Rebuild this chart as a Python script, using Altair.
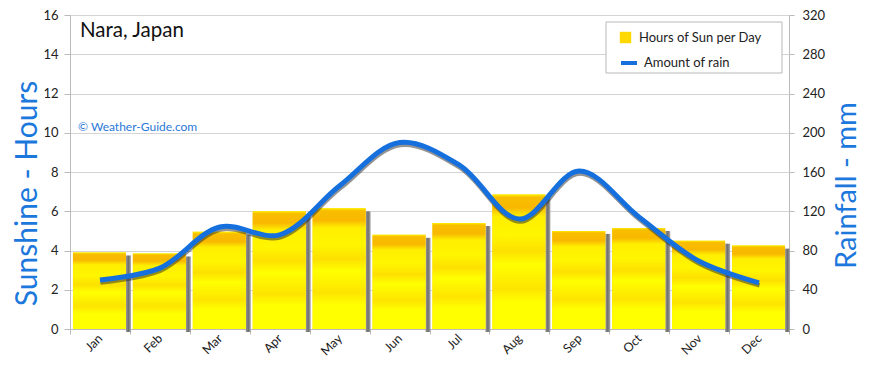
import altair as alt
import pandas as pd

months = ["Jan", "Feb", "Mar", "Apr", "May", "Jun", "Jul", "Aug", "Sep", "Oct", "Nov", "Dec"]
sun_hours = [3.9, 3.85, 4.95, 6.0, 6.15, 4.8, 5.4, 6.85, 5.0, 5.15, 4.5, 4.25]
rain_mm = [50, 62, 104, 96, 146, 190, 167, 112, 161, 114, 69, 47]
sun_ticks = [0, 2, 4, 6, 8, 10, 12, 14, 16]
rain_ticks = [0, 40, 80, 120, 160, 200, 240, 280, 320]

df = pd.DataFrame({
    "month": months,
    "sun": sun_hours,
    "rain": rain_mm,
    "sun_series": ["Hours of Sun per Day"] * 12,
    "rain_series": ["Amount of rain"] * 12,
})

FONT = "Lato"
BLUE = "#1570dd"
TITLE_BLUE = "#1c78dc"

x_enc = alt.X(
    "month:N", sort=months,
    scale=alt.Scale(paddingInner=0, paddingOuter=0),
    axis=alt.Axis(title=None, labelAngle=315, labelAlign="right", labelBaseline="middle",
                  labelPadding=2, tickBand="extent", tickSize=5, tickColor="#bbbbbb",
                  domainColor="#bbbbbb", labelFont=FONT, labelFontSize=12.5, labelColor="#222222"),
)

sun_scale = alt.Scale(domain=[0, 16], nice=False)
rain_scale = alt.Scale(domain=[0, 320], nice=False)

base = alt.Chart(df)

left_axis = alt.Axis(values=sun_ticks, tickCount=9, labelOverlap=False, title="Sunshine - Hours",
                     titleAngle=270, titleX=-43, titleY=178, titleAlign="center", titleBaseline="middle",
                     titleFont=FONT, titleFontSize=30, titleFontWeight="normal", titleColor=TITLE_BLUE,
                     grid=True, gridColor="#d4d4d4", tickSize=6, tickColor="#bbbbbb",
                     domainColor="#bbbbbb", labelPadding=6, labelFont=FONT, labelFontSize=13,
                     labelColor="#222222")
sun_y = alt.Y("sun:Q", scale=sun_scale, axis=left_axis)

shadow_bars = base.mark_bar(
    size=5, xOffset=28.5, yOffset=3, y2Offset=0,
    fill={"gradient": "linear", "x1": 0, "y1": 0, "x2": 1, "y2": 0,
          "stops": [{"offset": 0, "color": "#9a9a9a"}, {"offset": 0.5, "color": "#6f6f6f"},
                    {"offset": 1, "color": "#aaaaaa"}]},
).encode(x=x_enc, y=sun_y)

legend_bars = base.mark_bar(size=53, xOffset=-0.5).encode(
    x=x_enc,
    y=sun_y,
    fill=alt.Fill("sun_series:N", scale=alt.Scale(domain=["Hours of Sun per Day"], range=["#ffd800"]),
                  legend=alt.Legend(title=None, orient="none", legendX=549, legendY=16,
                                    symbolType="square", symbolSize=130, symbolStrokeWidth=0,
                                    labelOffset=7, labelFont=FONT, labelFontSize=13,
                                    labelColor="#222222", padding=0)),
)

grad_bars = base.mark_bar(
    size=53, xOffset=-0.5,
    fill={"gradient": "linear", "x1": 0, "y1": 0, "x2": 0, "y2": 1,
          "stops": [{"offset": 0, "color": "#fff000"}, {"offset": 0.02, "color": "#f9be00"},
                    {"offset": 0.1, "color": "#f8b800"}, {"offset": 0.16, "color": "#ffee00"},
                    {"offset": 0.3, "color": "#fff600"}, {"offset": 0.42, "color": "#fde000"},
                    {"offset": 0.52, "color": "#ffff00"}, {"offset": 0.7, "color": "#fde400"},
                    {"offset": 0.8, "color": "#ffff00"}, {"offset": 1, "color": "#ffff00"}]},
).encode(x=x_enc, y=sun_y)

right_axis = alt.Axis(values=rain_ticks, tickCount=9, labelOverlap=False, orient="right",
                      title="Rainfall - mm", titleAngle=270, titleX=57, titleY=170, titleAlign="center",
                      titleBaseline="middle", titleFont=FONT, titleFontSize=29, titleFontWeight="normal",
                      titleColor=TITLE_BLUE, grid=False, tickSize=5, tickColor="#bbbbbb",
                      domainColor="#bbbbbb", labelPadding=8, labelFont=FONT, labelFontSize=13,
                      labelColor="#222222")
rain_y = alt.Y("rain:Q", scale=rain_scale, axis=right_axis)

line_shadow = base.mark_line(
    interpolate="catmull-rom", strokeWidth=4.5, color="#2a2a2a", opacity=0.5, yOffset=2.5, xOffset=0.5,
).encode(x=x_enc, y=rain_y)

line = base.mark_line(interpolate="catmull-rom", strokeWidth=5).encode(
    x=x_enc,
    y=rain_y,
    stroke=alt.Stroke("rain_series:N", scale=alt.Scale(domain=["Amount of rain"], range=[BLUE]),
                      legend=alt.Legend(title=None, orient="none", legendX=549, legendY=38,
                                        symbolType="stroke", symbolSize=256, symbolStrokeWidth=4,
                                        labelOffset=5, labelFont=FONT, labelFontSize=13,
                                        labelColor="#222222", padding=0)),
)

one = pd.DataFrame({"a": [0]})
frame = alt.Chart(one).mark_rect(fill="white", stroke="#b8b8b8", strokeWidth=1).encode(
    x=alt.value(536), x2=alt.value(712), y=alt.value(7), y2=alt.value(58))
title = alt.Chart(one).mark_text(align="left", baseline="middle", font=FONT, fontSize=20.5,
                                 color="#111111").encode(
    x=alt.value(10), y=alt.value(16), text=alt.value("Nara, Japan"))
watermark = alt.Chart(one).mark_text(align="left", baseline="middle", font=FONT, fontSize=12,
                                     color="#2a78d8").encode(
    x=alt.value(8), y=alt.value(112), text=alt.value("© Weather-Guide.com"))

bars_layer = alt.layer(shadow_bars, legend_bars, grad_bars)
rain_layer = alt.layer(line_shadow, line)

chart = alt.layer(bars_layer, rain_layer, frame, title, watermark).resolve_scale(
    y="independent", fill="independent", stroke="independent"
).properties(
    width=719, height=314,
    autosize=alt.AutoSizeParams(type="none"),
    padding={"left": 62, "top": 7, "right": 73, "bottom": 30},
).configure_view(stroke=None).configure(background="white")

chart.save("out.html", embed_options={"renderer": "svg", "actions": False})
